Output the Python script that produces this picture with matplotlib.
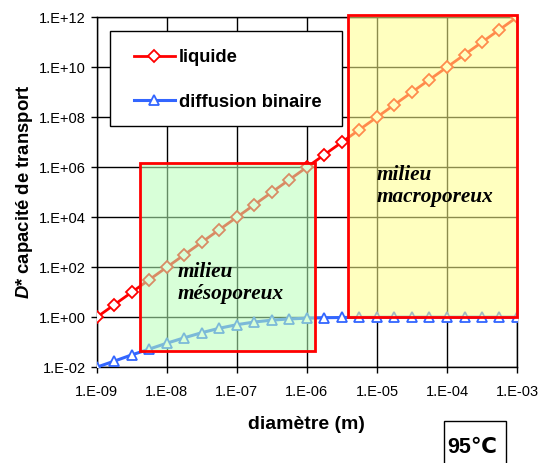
import matplotlib
matplotlib.use("Agg")
import matplotlib.pyplot as plt
from matplotlib.patches import Rectangle
from matplotlib.ticker import FixedLocator, FuncFormatter
import numpy as np

plt.rcParams['font.family'] = ['Liberation Sans', 'DejaVu Sans']
plt.rcParams['mathtext.fontset'] = 'custom'
plt.rcParams['mathtext.it'] = 'Liberation Sans:italic:bold'

# diameters, 4 points per decade from 1e-9 to 1e-3 m
diametre = [1.0e-9, 1.78e-9, 3.16e-9, 5.62e-9,
            1.0e-8, 1.78e-8, 3.16e-8, 5.62e-8,
            1.0e-7, 1.78e-7, 3.16e-7, 5.62e-7,
            1.0e-6, 1.78e-6, 3.16e-6, 5.62e-6,
            1.0e-5, 1.78e-5, 3.16e-5, 5.62e-5,
            1.0e-4, 1.78e-4, 3.16e-4, 5.62e-4,
            1.0e-3]
liquide = [1.0, 3.16, 1.0e1, 3.16e1,
           1.0e2, 3.16e2, 1.0e3, 3.16e3,
           1.0e4, 3.16e4, 1.0e5, 3.16e5,
           1.0e6, 3.16e6, 1.0e7, 3.16e7,
           1.0e8, 3.16e8, 1.0e9, 3.16e9,
           1.0e10, 3.16e10, 1.0e11, 3.16e11,
           1.0e12]
diffusion = [0.010, 0.0175, 0.031, 0.053,
             0.091, 0.15, 0.24, 0.36,
             0.50, 0.64, 0.76, 0.85,
             0.91, 0.95, 0.97, 0.98,
             0.99, 0.995, 1.0, 1.0,
             1.0, 1.0, 1.0, 1.0,
             1.0]
yticks = [1e-2, 1e0, 1e2, 1e4, 1e6, 1e8, 1e10, 1e12]
xticks = [1e-9, 1e-8, 1e-7, 1e-6, 1e-5, 1e-4, 1e-3]

fig = plt.figure(figsize=(5.38, 4.63), dpi=100)
ax = fig.add_axes([0.180, 0.207, 0.781, 0.756])

ax.plot(diametre, liquide, color='#ff0000', lw=2, marker='D', ms=6.5,
        mfc='white', mec='#ff0000', mew=1.3, label='liquide', zorder=3)
ax.plot(diametre, diffusion, color='#3366ff', lw=2.2, marker='^', ms=7.5,
        mfc='white', mec='#3366ff', mew=1.3, label='diffusion binaire', zorder=3)

ax.set_xscale('log')
ax.set_yscale('log')
ax.set_xlim(1e-9, 1e-3)
ax.set_ylim(1e-2, 1e12)
ax.xaxis.set_major_locator(FixedLocator(xticks))
ax.yaxis.set_major_locator(FixedLocator(yticks))
ax.xaxis.set_minor_locator(FixedLocator([]))
ax.yaxis.set_minor_locator(FixedLocator([]))
fmt = FuncFormatter(lambda v, p: "1.E%+03d" % int(round(np.log10(v))))
ax.xaxis.set_major_formatter(fmt)
ax.yaxis.set_major_formatter(fmt)
ax.tick_params(direction='out', length=4, width=1, labelsize=10.5)
ax.tick_params(axis='x', pad=9)
ax.tick_params(axis='y', pad=4)
ax.grid(True, color='black', lw=1)
ax.set_axisbelow(True)
for s in ax.spines.values():
    s.set_linewidth(1)

# zones
green = Rectangle((4.1e-9, 0.044), 1.3e-6 - 4.1e-9, 1.45e6 - 0.044,
                  facecolor=(0.72, 1.0, 0.72), alpha=0.55, edgecolor='none', zorder=4)
ax.add_patch(green)
ax.add_patch(Rectangle((4.1e-9, 0.044), 1.3e-6 - 4.1e-9, 1.45e6 - 0.044,
                       fill=False, edgecolor='#ff0000', lw=2, zorder=5))
yellow = Rectangle((3.9e-6, 1.0), 1e-3 - 3.9e-6, 1.2e12 - 1.0,
                   facecolor=(1.0, 1.0, 0.55), alpha=0.55, edgecolor='none',
                   zorder=4, clip_on=False)
ax.add_patch(yellow)
ax.add_patch(Rectangle((3.9e-6, 1.0), 1e-3 - 3.9e-6, 1.2e12 - 1.0,
                       fill=False, edgecolor='#ff0000', lw=2, zorder=5, clip_on=False))

ax.text(0.193, 0.3, "milieu\nmésoporeux", transform=ax.transAxes,
        family='Liberation Serif', style='italic', weight='bold', fontsize=15.3,
        va='top', ha='left', linespacing=1.1, zorder=6)
ax.text(0.666, 0.577, "milieu\nmacroporeux", transform=ax.transAxes,
        family='Liberation Serif', style='italic', weight='bold', fontsize=15.3,
        va='top', ha='left', linespacing=1.1, zorder=6)

# legend, frame drawn separately
ax.add_patch(Rectangle((0.031, 0.689), 0.552, 0.271, transform=ax.transAxes,
                       facecolor='white', edgecolor='black', lw=1, zorder=6))
leg = ax.legend(loc='upper left', bbox_to_anchor=(0.088, 0.908),
                prop={'weight': 'bold', 'size': 13.2}, frameon=False,
                handlelength=2.25, labelspacing=1.5, borderpad=0,
                handletextpad=0.2, borderaxespad=0)
leg.set_zorder(7)

ax.set_xlabel("diamètre (m)", fontsize=14, weight='bold', labelpad=12)
ax.set_ylabel("$D$* capacité de transport", fontsize=13.3, weight='bold', labelpad=3)

fig.text(0.878, 0.034, "95℃", fontsize=15.5, weight='bold', ha='center', va='center',
         family=['Liberation Sans', 'DejaVu Sans'])
fig.patches.append(Rectangle((0.825, -0.05), 0.116, 0.141, transform=fig.transFigure,
                             fill=False, edgecolor='black', lw=1))

fig.savefig("out.png", dpi=100)
